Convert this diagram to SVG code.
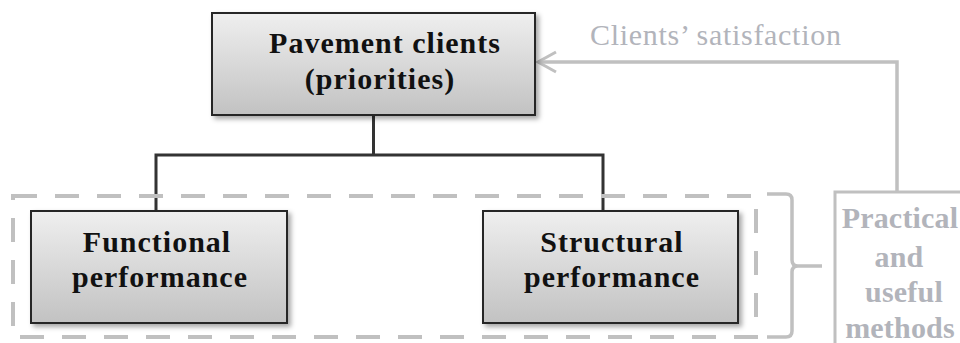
<svg xmlns="http://www.w3.org/2000/svg" width="960" height="343" viewBox="0 0 960 343">
  <defs>
    <linearGradient id="boxFill" x1="0" y1="0" x2="0" y2="1">
      <stop offset="0" stop-color="#efefef"/>
      <stop offset="1" stop-color="#c2c2c2"/>
    </linearGradient>
    <filter id="shadow" x="-10%" y="-10%" width="125%" height="135%">
      <feDropShadow dx="3" dy="3" stdDeviation="2.5" flood-color="#000" flood-opacity="0.35"/>
    </filter>
    <!-- open chevron, drawn pointing along the path direction -->
    <marker id="openArrow" markerUnits="userSpaceOnUse" markerWidth="24" markerHeight="24" refX="21" refY="12" orient="auto" overflow="visible">
      <path d="M3 2 L21 12 L3 22" fill="none" stroke="#c0c0c0" stroke-width="3"/>
    </marker>
  </defs>
  <style>
    .box { fill: url(#boxFill); stroke: #262626; stroke-width: 2; filter: url(#shadow); }
    .label { font-family: "Liberation Serif", "Times New Roman", serif; font-weight: bold; font-size: 30px; letter-spacing: 1px; fill: #111; text-anchor: middle; }
    .grey { font-family: "Liberation Serif", "Times New Roman", serif; fill: #b2b4bb; }
    .tree { fill: none; stroke: #333; stroke-width: 3; }
    .light { fill: none; stroke: #c0c0c0; stroke-width: 3.5; }
  </style>

  <rect width="960" height="343" fill="#fff"/>

  <!-- hierarchy connectors -->
  <g id="connectors">
    <path class="tree" d="M373.5 115 V155 M156 211 V155 H603 V211"/>
    <path class="light" d="M897 192 V62 H538" marker-end="url(#openArrow)"/>
    <path class="light" d="M767 194 H786 Q792 194 792 200 V260 Q792 266 798 266 H822 M798 266 Q792 266 792 272 V331 Q792 337 786 337 H767"/>
  </g>

  <!-- dashed grouping of the two performance types -->
  <g id="performance-group">
    <rect x="13" y="196" width="743" height="141" fill="none" stroke="#c0c0c0" stroke-width="4" stroke-dasharray="24 18"/>
  </g>

  <g id="clients">
    <rect class="box" x="212" y="13" width="323" height="102"/>
    <text class="label" x="385" y="53" letter-spacing="0.6">Pavement clients</text>
    <text class="label" x="380" y="89" letter-spacing="0">(priorities)</text>
  </g>

  <g id="functional">
    <rect class="box" x="31" y="211" width="256" height="112"/>
    <text class="label" x="157" y="252">Functional</text>
    <text class="label" x="160" y="287">performance</text>
  </g>

  <g id="structural">
    <rect class="box" x="483" y="211" width="255" height="112"/>
    <text class="label" x="612" y="252">Structural</text>
    <text class="label" x="612" y="287">performance</text>
  </g>

  <g id="methods">
    <rect x="835" y="192" width="140" height="170" fill="none" stroke="#c0c0c0" stroke-width="3"/>
    <g class="grey" font-weight="bold" font-size="30" letter-spacing="0.2" text-anchor="middle">
      <text x="900" y="228">Practical</text>
      <text x="899" y="267">and</text>
      <text x="904" y="302">useful</text>
      <text x="900" y="338">methods</text>
    </g>
  </g>

  <g id="satisfaction-label">
    <text class="grey" x="590" y="45" font-size="30" letter-spacing="0.7">Clients’ satisfaction</text>
  </g>
</svg>
